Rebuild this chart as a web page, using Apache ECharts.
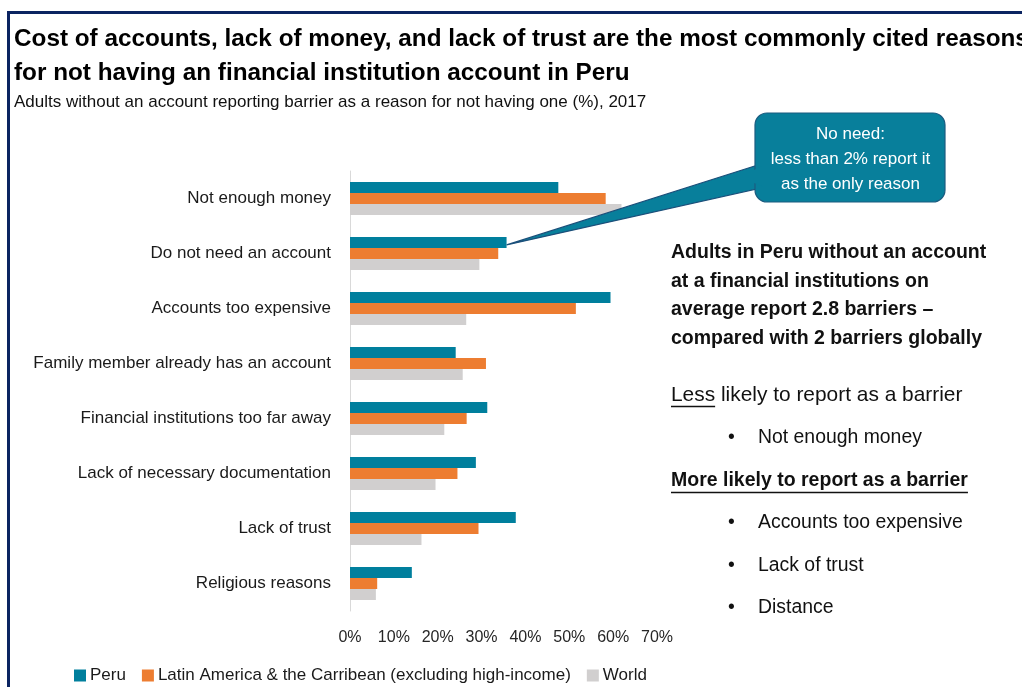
<!DOCTYPE html>
<html>
<head>
<meta charset="utf-8">
<script src="https://cdn.jsdelivr.net/npm/echarts@6/dist/echarts.min.js"></script>
<style>
  html, body { margin: 0; padding: 0; background: #fff; }
  #chart { width: 1022px; height: 687px; }
</style>
</head>
<body>
<div id="chart"></div>
<script>
// Barriers to account ownership, share of adults without an account (%), 2017
const categories = [
  'Not enough money',
  'Do not need an account',
  'Accounts too expensive',
  'Family member already has an account',
  'Financial institutions too far away',
  'Lack of necessary documentation',
  'Lack of trust',
  'Religious reasons'
];
const seriesNames = ['Peru', 'Latin America & the Carribean (excluding high-income)', 'World'];
const peru  = [47.5, 35.7, 59.4, 24.1, 31.3, 28.7, 37.8, 14.1];
const lac   = [58.3, 33.8, 51.5, 31.0, 26.6, 24.5, 29.3, 6.2];
const world = [61.9, 29.5, 26.5, 25.7, 21.5, 19.5, 16.3, 5.9];
const xMin = 0, xMax = 70, xStep = 10;

const titleLines = [
  'Cost of accounts, lack of money, and lack of trust are the most commonly cited reasons',
  'for not having an financial institution account in Peru'
];
const subtitle = 'Adults without an account reporting barrier as a reason for not having one (%), 2017';
const calloutLines = ['No need:', 'less than 2% report it', 'as the only reason'];
const summaryLines = [
  'Adults in Peru without an account',
  'at a financial institutions on',
  'average report 2.8 barriers \u2013',
  'compared with 2 barriers globally'
];
const lessHead = ['Less', ' likely to report as a barrier'];
const lessItems = ['Not enough money'];
const moreHead = 'More likely to report as a barrier';
const moreItems = ['Accounts too expensive', 'Lack of trust', 'Distance'];

const colors = ['#007f9d', '#ed7d31', '#d1cfcf'];
const FONT = '"Liberation Sans", Arimo, Arial, sans-serif';
const NAVY = '#0b2461';

const chart = echarts.init(document.getElementById('chart'), null, { renderer: 'canvas' });

const ctx = document.createElement('canvas').getContext('2d');
function textWidth(str, font) { ctx.font = font; return ctx.measureText(str).width; }

function makeSeries(name, data, color) {
  return {
    name: name,
    type: 'bar',
    data: data,
    barWidth: 11,
    barGap: '0%',
    barCategoryGap: '40%',
    itemStyle: { color: color },
    emphasis: { disabled: true },
    animation: false
  };
}

const option = {
  animation: false,
  color: colors,
  grid: { left: 350, right: 365, top: 171, bottom: 76, containLabel: false },
  xAxis: {
    type: 'value',
    min: xMin, max: xMax, interval: xStep,
    axisLine: { show: false },
    axisTick: { show: false },
    splitLine: { show: false },
    axisLabel: {
      formatter: '{value}%',
      color: '#262626',
      fontFamily: FONT,
      fontSize: 16,
      margin: 19
    }
  },
  yAxis: {
    type: 'category',
    data: categories,
    inverse: true,
    axisLine: { show: true, lineStyle: { color: '#d9d9d9', width: 1 } },
    axisTick: { show: false },
    axisLabel: {
      color: '#1a1a1a',
      fontFamily: FONT,
      fontSize: 17,
      margin: 19
    }
  },
  legend: {
    left: 69, top: 662,
    itemWidth: 12, itemHeight: 12,
    itemGap: 16,
    icon: 'rect',
    selectedMode: false,
    textStyle: { color: '#1a1a1a', fontFamily: FONT, fontSize: 17, padding: [0, 0, 0, -1] },
    data: seriesNames
  },
  series: [
    makeSeries(seriesNames[0], peru, colors[0]),
    makeSeries(seriesNames[1], lac, colors[1]),
    makeSeries(seriesNames[2], world, colors[2])
  ]
};
chart.setOption(option);

// Annotation layer: frame, headings, callout bubble and the text panel on the right
function buildGraphics() {
  const g = [];
  // frame
  g.push({ type: 'rect', shape: { x: 8.5, y: 12.5, width: 1030, height: 700 },
           style: { fill: 'none', stroke: NAVY, lineWidth: 3 }, silent: true, z: 10 });

  // title and subtitle
  titleLines.forEach(function (t, i) {
    g.push({ type: 'text', x: 14, y: 39.5 + i * 34,
      style: { text: t, font: 'bold 24.3px ' + FONT, fill: '#000', textVerticalAlign: 'middle' }, z: 10 });
  });
  g.push({ type: 'text', x: 14, y: 102,
    style: { text: subtitle, font: '17px ' + FONT, fill: '#111', textVerticalAlign: 'middle' }, z: 10 });

  // callout bubble, its tail pointing at the end of the Peru "Do not need an account" bar
  let tip = chart.convertToPixel({ gridIndex: 0 }, [peru[1], 1]);
  try {
    const lay = chart.getModel().getSeriesByIndex(0).getData().getItemLayout(1);
    tip = [lay.x + lay.width, lay.y + lay.height * 0.72];
  } catch (e) { tip = [tip[0], tip[1] - 9]; }
  const bx = 755, by = 113, bw = 190, bh = 89;
  g.push({ type: 'polygon', shape: { points: [[bx + 6, 164], tip, [bx + 6, 188]] },
    style: { fill: '#087f9b', stroke: '#1b4f7a', lineWidth: 1.2 }, z: 20 });
  g.push({ type: 'rect', shape: { x: bx, y: by, width: bw, height: bh, r: 12 },
    style: { fill: '#087f9b', stroke: '#1b5c80', lineWidth: 1.2 }, z: 21 });
  g.push({ type: 'polygon', shape: { points: [[bx + 8, 165.5], [bx - 1, 170], [bx - 1, 183], [bx + 8, 186.5]] },
    style: { fill: '#087f9b' }, z: 22 });
  calloutLines.forEach(function (t, i) {
    g.push({ type: 'text', x: bx + bw / 2 + 0.5, y: 134 + i * 25,
      style: { text: t, font: '17px ' + FONT, fill: '#fff', textAlign: 'center', textVerticalAlign: 'middle' }, z: 23 });
  });

  // right-hand text panel
  const px = 671;
  const boldFont = 'bold 19.5px ' + FONT;
  const headFont = '20.9px ' + FONT;
  const regFont = '19.4px ' + FONT;
  summaryLines.forEach(function (t, i) {
    g.push({ type: 'text', x: px, y: 253 + i * 28.5,
      style: { text: t, font: boldFont, fill: '#111', textVerticalAlign: 'middle' }, z: 10 });
  });

  // "Less likely ..." heading with the first word underlined
  g.push({ type: 'text', x: px, y: 395,
    style: { text: lessHead[0] + lessHead[1], font: headFont, fill: '#111', textVerticalAlign: 'middle' }, z: 10 });
  const lw = textWidth(lessHead[0], headFont);
  g.push({ type: 'line', shape: { x1: px, y1: 406.5, x2: px + lw, y2: 406.5 },
    style: { stroke: '#111', lineWidth: 1.5 }, z: 10 });
  lessItems.forEach(function (t, i) {
    g.push({ type: 'text', x: 728, y: 438 + i * 42,
      style: { text: '\u2022', font: regFont, fill: '#111', textVerticalAlign: 'middle' }, z: 10 });
    g.push({ type: 'text', x: 758, y: 438 + i * 42,
      style: { text: t, font: regFont, fill: '#111', textVerticalAlign: 'middle' }, z: 10 });
  });

  // "More likely ..." heading, bold and underlined
  g.push({ type: 'text', x: px, y: 481,
    style: { text: moreHead, font: boldFont, fill: '#111', textVerticalAlign: 'middle' }, z: 10 });
  const mw = textWidth(moreHead, boldFont);
  g.push({ type: 'line', shape: { x1: px, y1: 492.5, x2: px + mw, y2: 492.5 },
    style: { stroke: '#111', lineWidth: 1.5 }, z: 10 });
  moreItems.forEach(function (t, i) {
    g.push({ type: 'text', x: 728, y: 523 + i * 42.5,
      style: { text: '\u2022', font: regFont, fill: '#111', textVerticalAlign: 'middle' }, z: 10 });
    g.push({ type: 'text', x: 758, y: 523 + i * 42.5,
      style: { text: t, font: regFont, fill: '#111', textVerticalAlign: 'middle' }, z: 10 });
  });
  return g;
}
chart.setOption({ graphic: buildGraphics() });
</script>
</body>
</html>
